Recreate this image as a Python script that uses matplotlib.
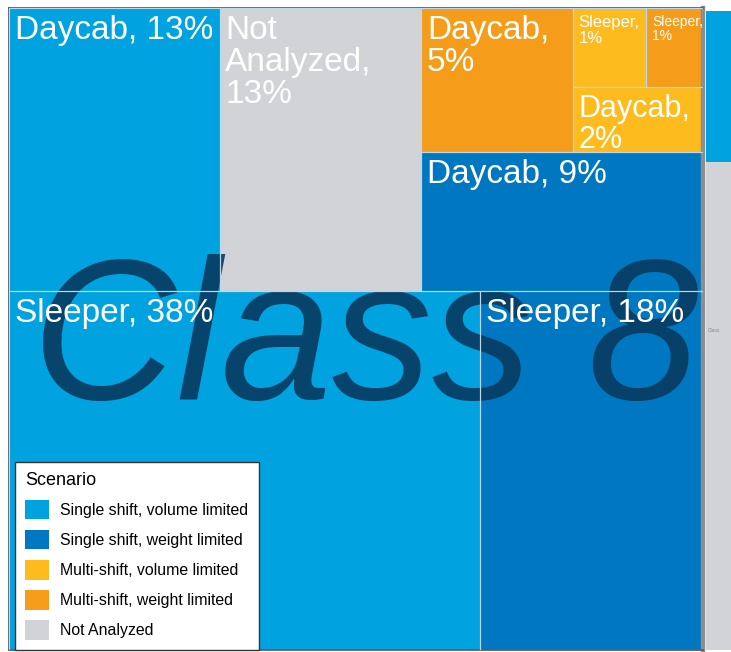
import matplotlib
matplotlib.use('Agg')
import matplotlib.pyplot as plt
from matplotlib.patches import Rectangle, Patch

plt.rcParams['font.family'] = ['Liberation Sans', 'DejaVu Sans']

# Class 8 treemap cells (share of trucks, %)
cell_names = ['Daycab', 'Not Analyzed', 'Daycab', 'Sleeper', 'Sleeper',
              'Daycab', 'Daycab', 'Sleeper', 'Sleeper']
cell_shares = [13.4, 12.8, 4.9, 1.3, 1.0, 1.9, 8.8, 37.9, 17.9]
cell_scenarios = [0, 4, 3, 2, 3, 2, 1, 0, 1]
label_sizes = [24, 24, 24, 12, 10, 22, 24, 24, 24]

scenarios = ['Single shift, volume limited', 'Single shift, weight limited',
             'Multi-shift, volume limited', 'Multi-shift, weight limited',
             'Not Analyzed']
scenario_colors = ['#00a3e0', '#0077c1', '#fdbb1e', '#f59d1b', '#d1d3d6']

# neighbouring treemap, cut off at the right edge
right_shares = [23.6, 76.4]
right_scenarios = [0, 4]

# slice-and-dice nesting: 'v' stacks top to bottom, 'h' goes left to right
layout = ('v', [('h', [0, 1, ('v', [('h', [2, ('v', [('h', [3, 4]), 5])]), 6])]),
                ('h', [7, 8])])
right_layout = ('v', [0, 1])


def total(node, shares):
    if isinstance(node, int):
        return shares[node]
    return sum(total(k, shares) for k in node[1])


def place(node, x, y, w, h, shares, out):
    if isinstance(node, int):
        out[node] = (x, y, w, h)
        return
    direction, kids = node
    tot = total(node, shares)
    for k in kids:
        f = total(k, shares) / tot
        if direction == 'h':
            place(k, x, y, w * f, h, shares, out)
            x += w * f
        else:
            place(k, x, y, w, h * f, shares, out)
            y += h * f


W, H = 731, 652
fig = plt.figure(figsize=(W / 100, H / 100), dpi=100)
fig.patch.set_facecolor('white')

# main panel
ax = fig.add_axes([9 / W, 2 / H, 694 / W, 642 / H])
ax.set_xlim(0, 1)
ax.set_ylim(1, 0)
ax.set_xticks([])
ax.set_yticks([])
for side in ['top', 'left', 'bottom']:
    ax.spines[side].set_color('#555555')
    ax.spines[side].set_linewidth(1.2)
ax.spines['right'].set_color('#8c8c8c')
ax.spines['right'].set_linewidth(3.2)

rects = {}
place(layout, 0, 0, 1, 1, cell_shares, rects)

patches = []
for i in range(len(cell_shares)):
    x, y, w, h = rects[i]
    p = Rectangle((x, y), w, h, facecolor=scenario_colors[cell_scenarios[i]],
                  edgecolor='none', zorder=1)
    ax.add_patch(p)
    patches.append(p)

# big panel title sitting behind the labels
ax.text(0.513, 0.391, 'Class 8', transform=ax.transAxes, ha='center',
        va='baseline', fontsize=144, style='italic', color='#083a5e',
        alpha=0.9, zorder=2)

# cell borders over the title
for i in range(len(cell_shares)):
    x, y, w, h = rects[i]
    ax.add_patch(Rectangle((x, y), w, h, facecolor='none', edgecolor='#bcd9ec',
                           linewidth=0.8, zorder=3))

labels = []
for i in range(len(cell_shares)):
    x, y, w, h = rects[i]
    txt = f'{cell_names[i]}, {round(cell_shares[i])}%'
    t = ax.annotate(txt, (x, y), xytext=(4, -5), textcoords='offset points',
                    ha='left', va='top', fontsize=label_sizes[i], color='white',
                    linespacing=1.05, zorder=4)
    t.set_clip_path(patches[i])
    labels.append(t)

# wrap labels that do not fit their cell
fig.canvas.draw()
renderer = fig.canvas.get_renderer()
for i, t in enumerate(labels):
    x, y, w, h = rects[i]
    (x0, _), (x1, _) = ax.transData.transform([(x, y), (x + w, y)])
    if t.get_window_extent(renderer).width > (x1 - x0) - 6:
        t.set_text(t.get_text().replace(' ', '\n'))

# right panel (cut off)
ax2 = fig.add_axes([706 / W, 2 / H, 40 / W, 639 / H])
ax2.set_xlim(0, 1)
ax2.set_ylim(1, 0)
ax2.set_xticks([])
ax2.set_yticks([])
for s in ax2.spines.values():
    s.set_visible(False)
rrects = {}
place(right_layout, 0, 0, 1, 1, right_shares, rrects)
for i in range(len(right_shares)):
    x, y, w, h = rrects[i]
    ax2.add_patch(Rectangle((x, y), w, h, facecolor=scenario_colors[right_scenarios[i]],
                            edgecolor='none'))
ax2.text(0.05, 0.5, 'Class', fontsize=3.5, color='#888888', va='center')

# legend
handles = [Patch(facecolor=c, edgecolor='none') for c in scenario_colors]
leg = fig.legend(handles, scenarios, title='Scenario', loc='lower left',
                 bbox_to_anchor=(15 / W, 2 / H), borderaxespad=0,
                 fontsize=11.4, title_fontsize=13, handlelength=1.5,
                 handleheight=1.5, labelspacing=0.68, handletextpad=0.7,
                 borderpad=0.65, alignment='left', fancybox=False,
                 framealpha=1, edgecolor='#333333')
leg.get_frame().set_linewidth(1.0)

fig.savefig('out.png', dpi=100)
